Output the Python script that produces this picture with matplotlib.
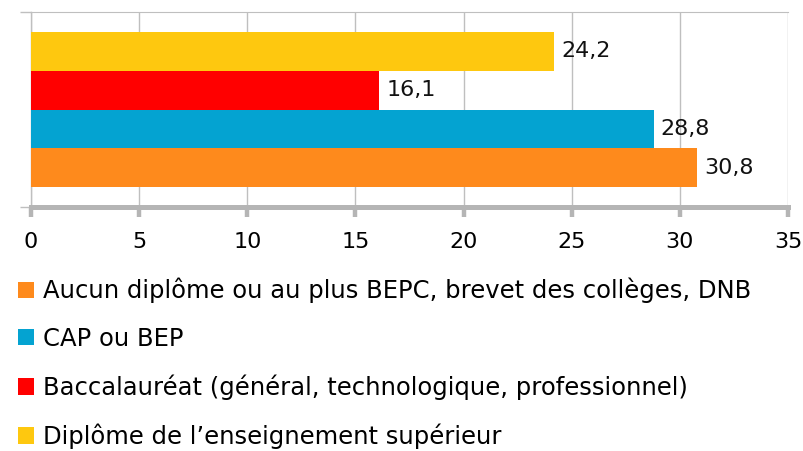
import matplotlib
matplotlib.use("Agg")
import matplotlib.pyplot as plt
from matplotlib.patches import Patch

categories = [
    "Aucun diplôme ou au plus BEPC, brevet des collèges, DNB",
    "CAP ou BEP",
    "Baccalauréat (général, technologique, professionnel)",
    "Diplôme de l\u2019enseignement supérieur",
]
values = [30.8, 28.8, 16.1, 24.2]
colors = ["#FE8A1C", "#04A3D1", "#FF0000", "#FEC80F"]
xticks = [0, 5, 10, 15, 20, 25, 30, 35]

plt.rcParams["font.family"] = ["DejaVu Sans"]

fig = plt.figure(figsize=(8.04, 4.51), dpi=100)
ax = fig.add_axes([31 / 804, 1 - 207 / 451, 757 / 804, 195 / 451])

pos = list(range(len(values)))
bars = ax.barh(pos, values, height=1.0, color=colors, zorder=3)
ax.bar_label(bars, labels=[f"{v:.1f}".replace(".", ",") for v in values],
             padding=5, fontsize=16, color="#111111")

ax.set_xlim(0, 35)
ax.set_ylim(-1.02, 4.02)
ax.set_xticks(xticks)
ax.set_xticklabels([str(t) for t in xticks], fontsize=16)
ax.set_yticks([-1.02, 4.02])
ax.set_yticklabels([])

grey = "#BFBFBF"
ax.grid(axis="x", color=grey, linewidth=1.0, zorder=0)
ax.spines["right"].set_visible(False)
ax.spines["top"].set_color(grey)
ax.spines["left"].set_color(grey)
ax.spines["left"].set_linewidth(1.0)
ax.spines["bottom"].set_color("#B5B5B5")
ax.spines["bottom"].set_linewidth(3.6)
ax.tick_params(axis="x", direction="out", length=7, width=3.2, color="#B5B5B5", pad=11)
ax.tick_params(axis="y", direction="out", length=8, width=1.0, color=grey)

handles = [Patch(facecolor=c, edgecolor="none") for c in colors]
fig.legend(handles, categories, loc="upper left", bbox_to_anchor=(8 / 804, 1 - 268 / 451),
           frameon=False, fontsize=17.5, handlelength=0.66, handleheight=0.66,
           handletextpad=0.37, labelspacing=0.97, borderaxespad=0)

fig.savefig("out.png", dpi=100)
